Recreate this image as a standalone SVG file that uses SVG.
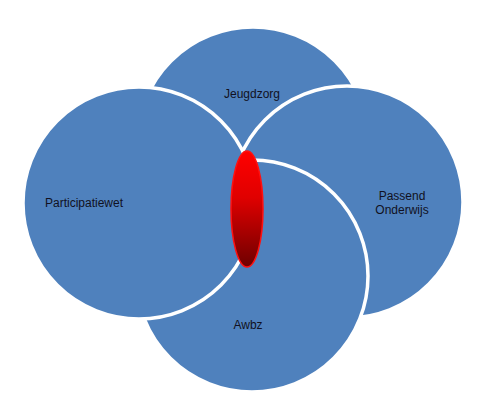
<svg xmlns="http://www.w3.org/2000/svg" width="485" height="411" viewBox="0 0 485 411">
<style>
.c{fill:#4F81BD;stroke:#FFFFFF;stroke-width:3.5}
.t{font-family:"Liberation Sans",Arial,sans-serif;font-size:12px;fill:#111122;text-anchor:middle}
</style>
<defs>
<linearGradient id="g" x1="0" y1="0" x2="0" y2="1">
<stop offset="0" stop-color="#FF0000"/>
<stop offset="0.4" stop-color="#E00000"/>
<stop offset="1" stop-color="#6E0000"/>
</linearGradient>
</defs>
<rect width="485" height="411" fill="#FFFFFF"/>
<g id="jeugdzorg"><circle class="c" cx="253" cy="143" r="116"/><text class="t" x="252" y="98">Jeugdzorg</text></g>
<g id="passend"><circle class="c" cx="347" cy="202" r="116"/><text class="t" x="402" y="200">Passend</text><text class="t" x="402" y="214">Onderwijs</text></g>
<g id="awbz"><circle class="c" cx="252" cy="276" r="116"/><text class="t" x="248" y="329">Awbz</text></g>
<g id="participatiewet"><circle class="c" cx="139" cy="203" r="116"/><text class="t" x="84" y="207">Participatiewet</text></g>
<g id="center"><ellipse cx="247" cy="209" rx="16" ry="58" fill="url(#g)" stroke="#FF1010" stroke-width="1.5"/></g>
<g id="connectors"/>
</svg>
